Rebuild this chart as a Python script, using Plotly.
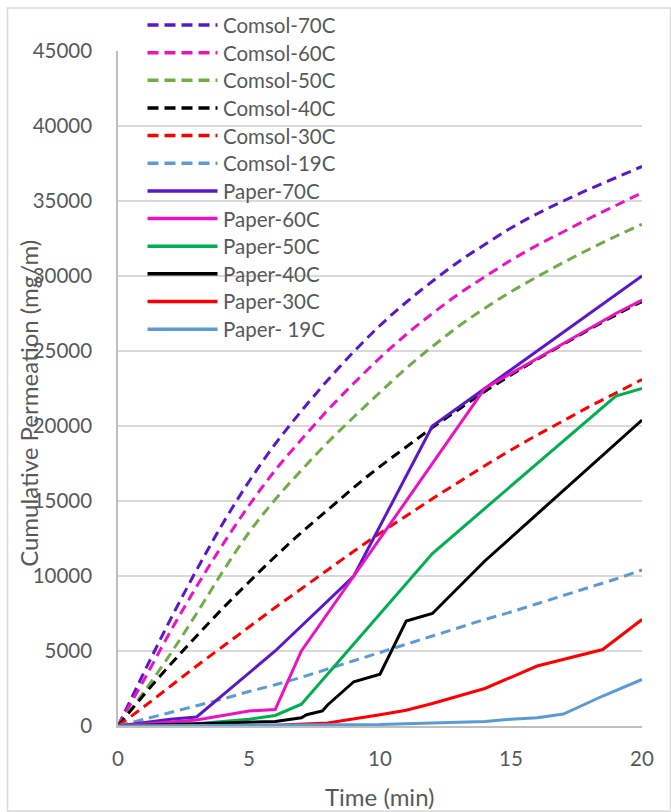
import plotly.graph_objects as go

# Model (COMSOL) curves, sampled every minute
time_model = list(range(21))
comsol_70 = [0, 3600, 7100, 10400, 13500, 16300, 18800, 21000, 23050, 24950, 26700,
             28250, 29650, 30950, 32100, 33200, 34150, 35000, 35800, 36550, 37300]
comsol_60 = [0, 3100, 6300, 9300, 12100, 14700, 17050, 19100, 21050, 22850, 24550,
             26100, 27500, 28800, 29950, 31050, 32050, 32950, 33850, 34700, 35550]
comsol_50 = [0, 2300, 4800, 7500, 10300, 12900, 15100, 17050, 18900, 20600, 22250,
             23850, 25300, 26650, 27850, 28950, 29950, 30900, 31800, 32650, 33450]
comsol_40 = [0, 2100, 4100, 6000, 7850, 9600, 11300, 12900, 14400, 15900, 17300,
             18600, 19900, 21100, 22300, 23400, 24450, 25450, 26450, 27400, 28300]
comsol_30 = [0, 1300, 2650, 4000, 5300, 6600, 7900, 9150, 10400, 11650, 12850,
             14000, 15150, 16250, 17350, 18400, 19400, 20350, 21300, 22200, 23100]
comsol_19 = [0, 450, 900, 1350, 1800, 2300, 2750, 3250, 3800, 4350, 4900,
             5450, 6000, 6550, 7100, 7600, 8150, 8700, 9250, 9800, 10400]

# Measured (paper) data
paper_70_t = [0, 1, 2, 3, 6, 9, 12, 14, 20]
paper_70 = [0, 250, 450, 600, 5000, 10000, 20000, 22500, 30000]
paper_60_t = [0, 1, 2, 3, 4, 5, 6, 7, 9, 14, 16, 18, 19, 20]
paper_60 = [0, 150, 300, 400, 700, 1000, 1100, 5000, 10000, 22500, 24500, 26500, 27500, 28400]
paper_50_t = [0, 1, 2, 3, 4, 5, 6, 7, 12, 19, 20]
paper_50 = [0, 50, 100, 150, 300, 450, 700, 1450, 11500, 22000, 22500]
paper_40_t = [0, 3, 6, 7, 7.2, 7.8, 8, 9, 10, 11, 12, 14, 20]
paper_40 = [0, 150, 300, 550, 750, 1000, 1400, 2950, 3450, 7000, 7500, 11000, 20400]
paper_30_t = [0, 6, 8, 9, 10, 11, 12, 14, 16, 18.5, 20]
paper_30 = [0, 50, 200, 450, 750, 1050, 1500, 2500, 4000, 5100, 7100]
paper_19_t = [0, 8, 10, 12, 14, 15, 16, 17, 18.5, 20]
paper_19 = [0, 50, 100, 200, 300, 450, 550, 800, 2000, 3100]

y_ticks = [0, 5000, 10000, 15000, 20000, 25000, 30000, 35000, 40000, 45000]
y_tick_labels = ["0", "5000", "10000", "15000", "20000", "25000", "30000",
                 "35000", "40000", "45000"]
x_ticks = [0, 5, 10, 15, 20]
x_tick_labels = ["0", "5", "10", "15", "20"]

PURPLE = "#5B17CC"
MAGENTA = "#EE11C4"
GREY_TEXT = "#595959"

series = [
    ("Comsol-70C", time_model, comsol_70, PURPLE, True),
    ("Comsol-60C", time_model, comsol_60, MAGENTA, True),
    ("Comsol-50C", time_model, comsol_50, "#70AD47", True),
    ("Comsol-40C", time_model, comsol_40, "#000000", True),
    ("Comsol-30C", time_model, comsol_30, "#FF0000", True),
    ("Comsol-19C", time_model, comsol_19, "#5B9BD5", True),
    ("Paper-70C", paper_70_t, paper_70, PURPLE, False),
    ("Paper-60C", paper_60_t, paper_60, MAGENTA, False),
    ("Paper-50C", paper_50_t, paper_50, "#00B050", False),
    ("Paper-40C", paper_40_t, paper_40, "#000000", False),
    ("Paper-30C", paper_30_t, paper_30, "#FF0000", False),
    ("Paper- 19C", paper_19_t, paper_19, "#5B9BD5", False),
]

fig = go.Figure()
for name, xs, ys, color, dashed in series:
    fig.add_trace(go.Scatter(
        x=xs, y=ys, mode="lines", name=name, showlegend=False,
        line=dict(color=color, width=3,
                  dash="10px,6px" if dashed else "solid",
                  shape="spline" if dashed else "linear"),
    ))

# Hand-built legend in the upper left of the plot area
legend_top = 1.0385
legend_step = 0.04096
shapes = []
annotations = []
for i, (name, _, _, color, dashed) in enumerate(series):
    y = legend_top - i * legend_step
    shapes.append(dict(type="line", xref="paper", yref="paper",
                       x0=0.0563, x1=0.1899, y0=y, y1=y,
                       line=dict(color=color, width=3.5,
                                 dash="11px,6px" if dashed else "solid")))
    annotations.append(dict(xref="paper", yref="paper", x=0.1975, y=y,
                            xanchor="left", yanchor="middle", showarrow=False,
                            text=name, font=dict(size=20.5, color=GREY_TEXT)))

# Axis titles placed as annotations (the vertical one overlaps the tick labels)
annotations.append(dict(xref="paper", yref="paper", x=-0.1708, y=0.478,
                        xanchor="center", yanchor="middle", showarrow=False,
                        textangle=-90, text="Cumulative Permeation (mg/m)",
                        font=dict(size=24, color=GREY_TEXT)))
annotations.append(dict(xref="paper", yref="paper", x=0.5, y=-0.1044,
                        xanchor="center", yanchor="middle", showarrow=False,
                        text="Time (min)", font=dict(size=24, color=GREY_TEXT)))

# Chart frame
shapes.append(dict(type="rect", xref="paper", yref="paper",
                   x0=-0.2109, x1=1.0544, y0=-0.1258, y1=1.0637,
                   line=dict(color="#D9D9D9", width=1.5), layer="below"))

fig.update_layout(
    width=671, height=812,
    margin=dict(l=118, r=29, t=51, b=86),
    paper_bgcolor="white", plot_bgcolor="white",
    font=dict(family="Lato, 'Open Sans', sans-serif", size=20.5, color=GREY_TEXT),
    shapes=shapes, annotations=annotations,
    xaxis=dict(range=[0, 20], tickvals=x_ticks, ticktext=x_tick_labels, ticks="",
               showgrid=False, zeroline=False, showline=True, linecolor="#BFBFBF",
               linewidth=1.5, ticklabelstandoff=14),
    yaxis=dict(range=[0, 45000], tickvals=y_ticks, ticktext=y_tick_labels, ticks="",
               showgrid=True, gridcolor="#D9D9D9", gridwidth=1.5, zeroline=False,
               showline=True, linecolor="#BFBFBF", linewidth=1.5,
               ticklabelstandoff=20),
)

fig.write_html("out.html")
